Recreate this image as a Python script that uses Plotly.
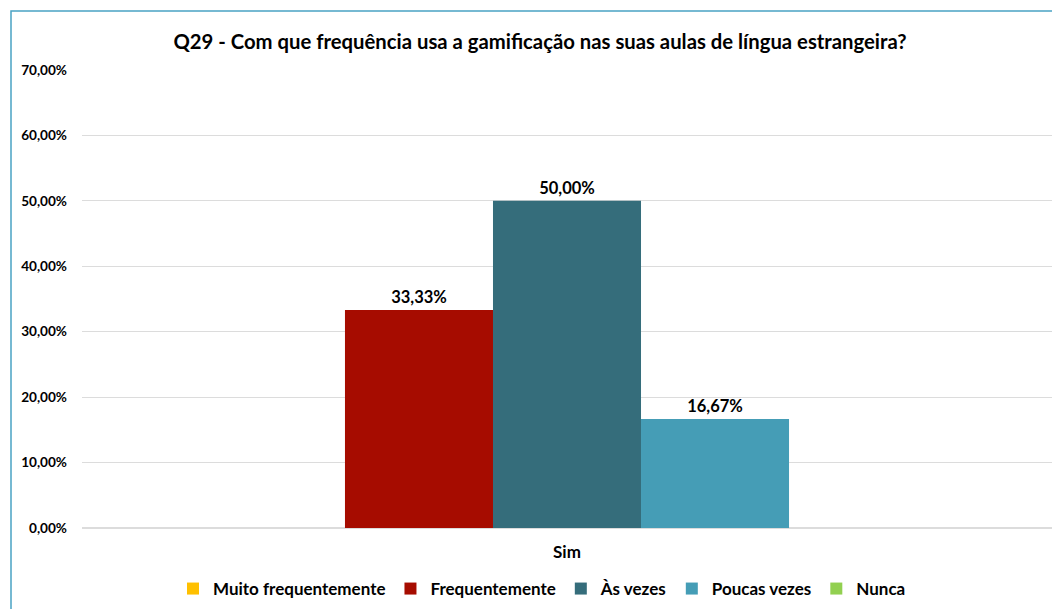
import plotly.graph_objects as go

# Survey answers for Q29
categories = ["Sim"]
series_names = ["Muito frequentemente", "Frequentemente", "Às vezes", "Poucas vezes", "Nunca"]
series_values = [0.0, 0.3333, 0.5, 0.1667, 0.0]
series_colors = ["#ffc000", "#a60c00", "#356d7b", "#459db6", "#92d050"]
y_ticks = [0, 0.1, 0.2, 0.3, 0.4, 0.5, 0.6, 0.7]

FONT = "Lato, 'Open Sans', sans-serif"


def pct(v):
    return f"{v * 100:.2f}%".replace(".", ",")


fig = go.Figure()
for name, val, color in zip(series_names, series_values, series_colors):
    label = f"<b>{pct(val)}</b>" if val > 0 else ""
    fig.add_trace(go.Bar(
        x=categories,
        y=[val],
        name=f"<b>{name}</b>",
        marker=dict(color=color, line=dict(width=0)),
        text=[label],
        textposition="outside",
        cliponaxis=False,
        textfont=dict(family=FONT, size=16.5, color="#000000"),
    ))

W, H = 1052, 609
L, R, T, B = 82, 0, 70, 81
pw, ph = W - L - R, H - T - B

fig.update_layout(
    width=W, height=H,
    margin=dict(l=L, r=R, t=T, b=B),
    paper_bgcolor="white",
    plot_bgcolor="white",
    separators=",.",
    barmode="group",
    bargap=0.237,
    bargroupgap=0,
    font=dict(family=FONT, color="#000000"),
    title=dict(
        text="<b>Q29 - Com que frequência usa a gamificação nas suas aulas de língua estrangeira?</b>",
        x=540 / W, xref="container", xanchor="center",
        y=1 - 42 / H, yref="container", yanchor="middle",
        font=dict(family=FONT, size=20.3, color="#000000"),
    ),
    legend=dict(
        orientation="h",
        x=(542 - L) / pw, xanchor="center",
        y=-(589 - (T + ph)) / ph, yanchor="middle",
        font=dict(family=FONT, size=17, color="#000000"),
        itemwidth=30,
        traceorder="normal",
    ),
    xaxis=dict(
        showgrid=False,
        showline=False,
        tickvals=categories,
        ticktext=[f"<b>{c}</b>" for c in categories],
        tickfont=dict(family=FONT, size=17, color="#000000"),
        ticklabelstandoff=12,
    ),
    yaxis=dict(
        range=[0, 0.7],
        tickvals=y_ticks,
        ticktext=[f"<b>{pct(v)}</b>" for v in y_ticks],
        showgrid=True,
        gridcolor="#dcdcdc",
        gridwidth=1,
        zeroline=True,
        zerolinecolor="#dcdcdc",
        zerolinewidth=1.5,
        showline=False,
        tickfont=dict(family=FONT, size=13.6, color="#000000"),
        ticklabelstandoff=14,
    ),
    shapes=[dict(
        type="rect", xref="paper", yref="paper",
        x0=(11 - L) / pw, x1=1.05,
        y0=-0.4, y1=(T + ph - 11) / ph,
        line=dict(color="#4aa3c3", width=1.5),
        fillcolor="rgba(0,0,0,0)",
        layer="above",
    )],
)

fig.write_html("out.html")
